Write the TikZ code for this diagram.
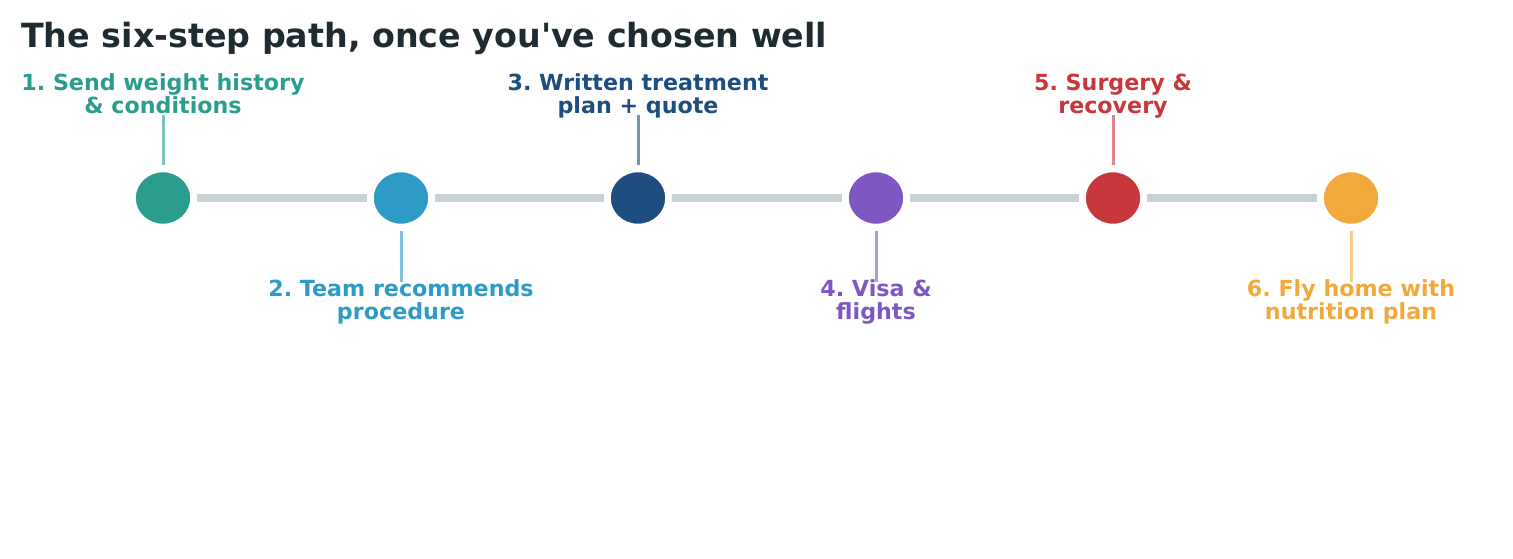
\documentclass[tikz,border=0pt]{standalone}
\usepackage{fontspec}
\setmainfont{DejaVu Sans}
\usetikzlibrary{shapes.geometric}
\frenchspacing
\definecolor{cA}{HTML}{2A9D8F}
\definecolor{cB}{HTML}{2E9BC6}
\definecolor{cC}{HTML}{1D4E7F}
\definecolor{cD}{HTML}{7E57C2}
\definecolor{cE}{HTML}{C8373C}
\definecolor{cF}{HTML}{F2A83B}
\definecolor{track}{HTML}{C9D3D6}
\definecolor{titlec}{HTML}{1E2B30}
\tikzset{
  x=1pt, y=-1pt,
  dot/.style={ellipse, minimum width=56pt, minimum height=53pt, inner sep=0pt, fill=#1, draw=white, line width=1.5pt},
  trackline/.style={draw=track, line width=8.5pt, shorten <=5.5pt, shorten >=5.5pt},
  stem/.style={draw=#1!60!white, line width=3pt},
  lbl/.style={font=\fontsize{22.2}{23}\selectfont\bfseries, text=#1, align=center, anchor=base, inner sep=0pt},
  ttl/.style={font=\fontsize{33.3}{36}\selectfont\bfseries, text=titlec, anchor=base west, inner sep=0pt},
}
\begin{document}
\begin{tikzpicture}
\useasboundingbox (0,0) rectangle (1513,558);
\node[ttl] (title) at (21,47) {The six-step path, once you\textquotesingle ve chosen well};

\node[dot=cA] (s1) at (163,198) {};
\node[dot=cB] (s2) at (401,198) {};
\node[dot=cC] (s3) at (638,198) {};
\node[dot=cD] (s4) at (876,198) {};
\node[dot=cE] (s5) at (1113,198) {};
\node[dot=cF] (s6) at (1351,198) {};

\draw[trackline] (s1) -- (s2);
\draw[trackline] (s2) -- (s3);
\draw[trackline] (s3) -- (s4);
\draw[trackline] (s4) -- (s5);
\draw[trackline] (s5) -- (s6);

\node[lbl=cA] (l1) at (163,113) {1. Send weight history\\\& conditions};
\node[lbl=cB] (l2) at (401,319) {2. Team recommends\\procedure};
\node[lbl=cC] (l3) at (638,113) {3. Written treatment\\plan + quote};
\node[lbl=cD] (l4) at (876,319) {4. Visa \&\\flights};
\node[lbl=cE] (l5) at (1113,113) {5. Surgery \&\\recovery};
\node[lbl=cF] (l6) at (1351,319) {6. Fly home with\\nutrition plan};

\coordinate (t1) at (163,115); \coordinate (t3) at (638,115); \coordinate (t5) at (1113,115);
\coordinate (b2) at (401,282); \coordinate (b4) at (876,282); \coordinate (b6) at (1351,282);
\draw[stem=cA] (t1) -- ([yshift=5.5pt]s1.north);
\draw[stem=cC] (t3) -- ([yshift=5.5pt]s3.north);
\draw[stem=cE] (t5) -- ([yshift=5.5pt]s5.north);
\draw[stem=cB] ([yshift=-5.5pt]s2.south) -- (b2);
\draw[stem=cD] ([yshift=-5.5pt]s4.south) -- (b4);
\draw[stem=cF] ([yshift=-5.5pt]s6.south) -- (b6);
\end{tikzpicture}
\end{document}
